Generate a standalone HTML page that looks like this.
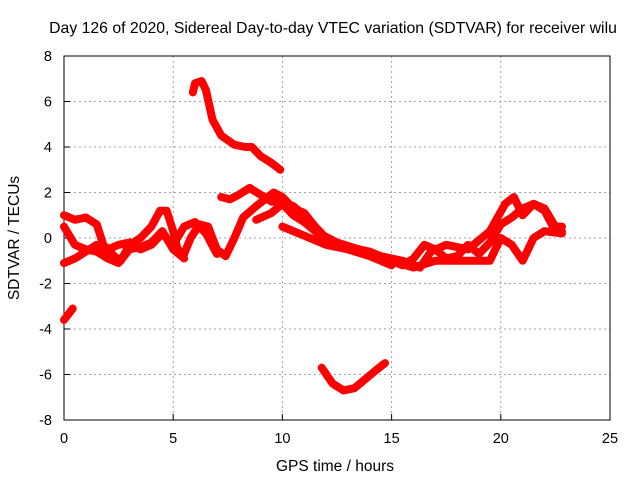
<!DOCTYPE html>
<html><head><meta charset="utf-8"><style>
body{margin:0;background:#fff;}
svg{display:block;font-family:"Liberation Sans",sans-serif;}
</style></head><body>
<svg id="chart" width="640" height="480">
<rect width="640" height="480" fill="#fff"/>
<text x="333" y="33" font-size="15.8" text-anchor="middle">Day 126 of 2020, Sidereal Day-to-day VTEC variation (SDTVAR) for receiver wilu</text>
<g id="grid"></g><g id="axes"></g><g id="series"></g>
<text x="335" y="471" font-size="15.5" text-anchor="middle">GPS time / hours</text>
<text transform="translate(19,238) rotate(-90)" font-size="15.5" text-anchor="middle">SDTVAR / TECUs</text>
</svg>
<script>
const xTicks=[0,5,10,15,20,25];
const yTicks=[-8,-6,-4,-2,0,2,4,6,8];
const trackA=[[5.9,6.4],[6.0,6.8],[6.3,6.9],[6.5,6.5],[6.8,5.2],[7.2,4.5],[7.8,4.1],[8.3,4.0],[8.6,4.0],[9.0,3.6],[9.5,3.3],[9.9,3.0]];
const trackB=[[11.8,-5.7],[12.3,-6.4],[12.8,-6.7],[13.3,-6.6],[13.8,-6.2],[14.3,-5.8],[14.7,-5.5]];
const trackC=[[0,-3.6],[0.4,-3.1]];
const trackD=[[0,1.0],[0.5,0.8],[1.0,0.9],[1.5,0.6],[1.8,-0.3],[2.3,-0.8],[2.6,-1.0],[3.0,-0.3],[3.5,0.0],[4.0,0.5],[4.4,1.2],[4.7,1.2],[5.0,0.3],[5.2,-0.5],[5.5,-0.7],[5.8,0.0],[6.2,0.6],[6.6,0.5],[7.0,-0.5],[7.4,-0.8],[7.8,0.0],[8.2,0.9],[8.8,1.4],[9.2,1.7],[9.6,2.0],[10.0,1.8],[10.5,1.3],[11.0,1.1],[11.5,0.5],[12.0,0.0],[12.5,-0.3],[13.0,-0.4],[14.0,-0.6],[15.0,-1.0],[15.5,-1.2],[16.0,-0.9],[16.5,-0.3],[17.0,-0.5],[17.5,-0.9],[18.0,-0.8],[18.5,-0.3],[19.0,-0.7],[19.5,-0.2],[20.0,0.6],[20.5,0.9],[21.0,1.3],[21.5,1.5],[22.0,1.2],[22.5,0.3],[22.8,0.3]];
const trackE=[[0,-1.1],[0.5,-0.9],[1.0,-0.6],[1.5,-0.3],[2.0,-0.5],[2.5,-0.3],[3.0,-0.2],[3.5,-0.5],[4.0,-0.3],[4.5,0.2],[5.0,-0.3],[5.5,0.5],[6.0,0.7],[6.5,0.2],[7.0,-0.7]];
const trackE2=[[7.2,1.8],[7.6,1.7],[8.0,1.9],[8.5,2.2],[9.0,1.9],[9.5,1.6],[10.0,1.6],[10.5,1.4],[11.0,1.0],[11.5,0.3],[12.5,-0.2],[13.5,-0.5],[14.5,-0.8],[15.5,-1.0],[16.3,-1.3],[16.8,-0.6],[17.5,-0.3],[18.5,-0.5],[19.5,0.3],[20.2,1.5],[20.6,1.8],[21.0,1.0],[21.5,1.5],[22.0,1.3],[22.5,0.5],[22.8,0.5]];
const trackF=[[0,0.5],[0.5,-0.3],[1.0,-0.5],[1.5,-0.6],[2.0,-0.9],[2.5,-1.1],[3.0,-0.5],[3.5,-0.4],[4.0,-0.2],[4.5,0.3],[5.0,-0.5],[5.5,-0.9]];
const trackG=[[8.8,0.8],[9.5,1.1],[10.0,1.5],[10.5,1.0],[11.0,0.7],[11.5,0.3],[12.0,-0.2],[13.0,-0.4],[14.0,-0.7],[15.0,-1.0],[16.0,-1.3],[17.0,-1.0],[18.0,-1.0],[19.0,-1.0],[19.5,-1.0],[20.0,0.0],[20.5,-0.3],[21.0,-1.0],[21.5,0.0],[22.0,0.3],[22.8,0.2]];
const trackH=[[10.0,0.5],[11.0,0.1],[12.0,-0.3],[13.0,-0.5],[14.0,-0.8],[15.0,-1.2]];
const tracks=[trackA,trackB,trackC,trackD,trackE,trackE2,trackF,trackG,trackH];
const X0=64,X1=610,Y0=420,Y1=56;
const sx=v=>X0+(v-0)/(25-0)*(X1-X0);
const sy=v=>Y0-(v+8)/16*(Y0-Y1);
const NS="http://www.w3.org/2000/svg";
const g=document.getElementById('grid'),ax=document.getElementById('axes'),se=document.getElementById('series');
function mk(tag,at,p){const e=document.createElementNS(NS,tag);for(const k in at)e.setAttribute(k,at[k]);p.appendChild(e);return e;}
xTicks.forEach(t=>{const x=sx(t);
 if(t>0&&t<25){const l=mk('line',{x1:x,x2:x,y1:Y1,y2:Y0,stroke:'#a0a0a0','stroke-dasharray':'2,3'},g);
 
 }
 mk('line',{x1:x,x2:x,y1:Y0,y2:Y0-6,stroke:'#000'},ax);
 const tx=mk('text',{x:x,y:Y0+23,'font-size':14.5,'text-anchor':'middle'},ax);tx.textContent=t;
 
 });
yTicks.forEach(t=>{const y=sy(t);
 if(t>-8&&t<8){const l=mk('line',{x1:X0,x2:X1,y1:y,y2:y,stroke:'#a0a0a0','stroke-dasharray':'2,3'},g);
 
 }
 mk('line',{x1:X0,x2:X0+6,y1:y,y2:y,stroke:'#000'},ax);
 const tx=mk('text',{x:X0-12,y:y+5,'font-size':14.5,'text-anchor':'end'},ax);tx.textContent=t;
 
 });
const fr=mk('rect',{x:X0,y:Y1,width:X1-X0,height:Y0-Y1,fill:'none',stroke:'#000'},ax);


tracks.forEach(tr=>{
 const p=mk('polyline',{points:tr.map(d=>sx(d[0])+','+sy(d[1])).join(' '),fill:'none',stroke:'#f00','stroke-width':8,'stroke-linejoin':'round','stroke-linecap':'round'},se);
 
 
});
</script>
</body></html>
